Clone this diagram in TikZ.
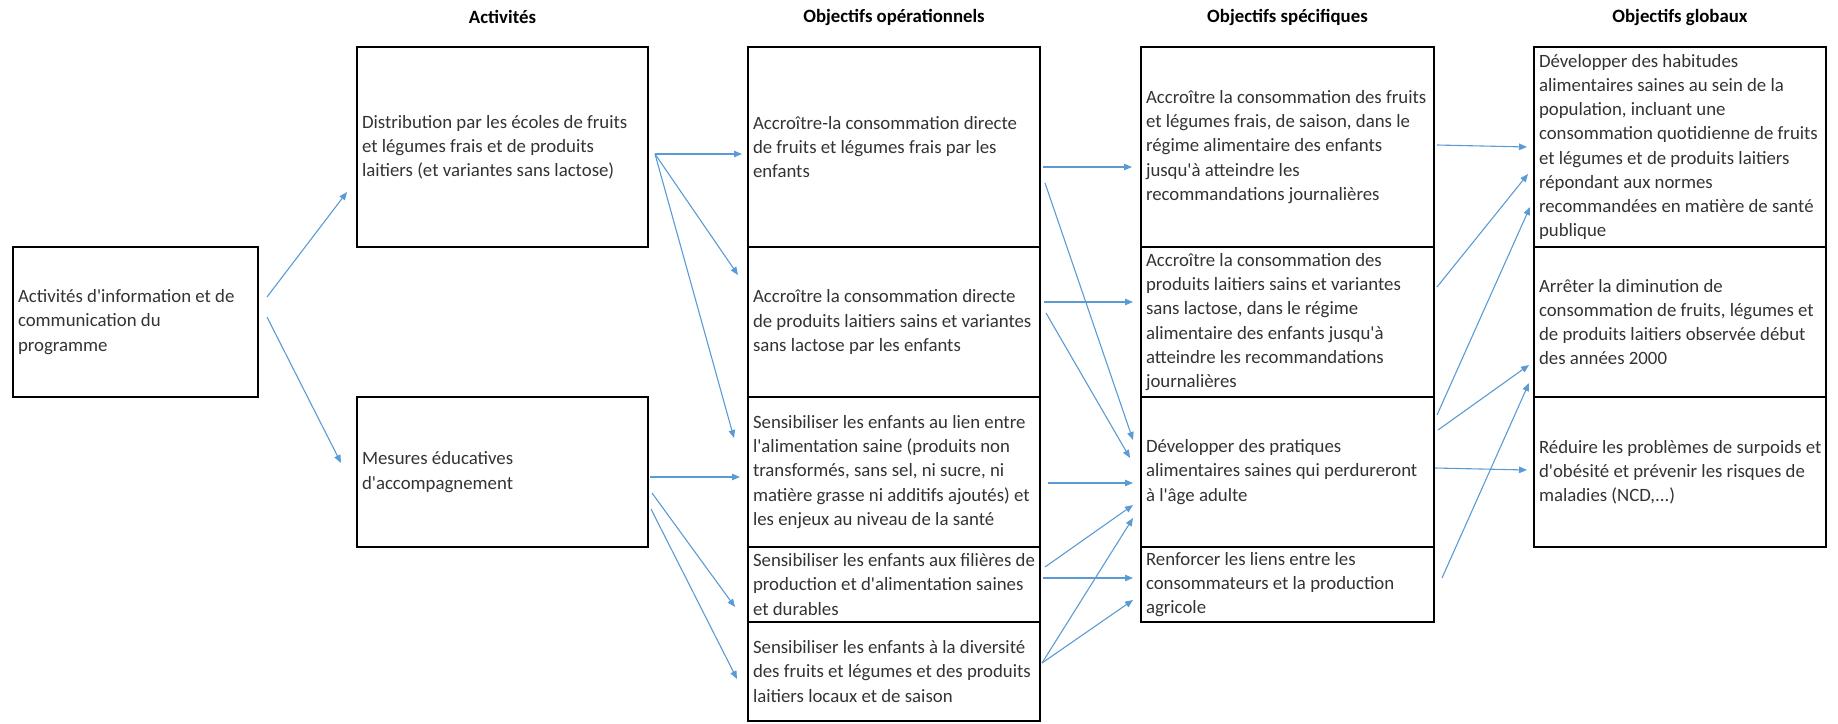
\documentclass[tikz,border=0pt]{standalone}
\usepackage{fontspec}
\setmainfont{Carlito}
\usetikzlibrary{calc,arrows.meta}
\definecolor{arrowblue}{RGB}{91,155,213}
\definecolor{txtgray}{HTML}{333333}
\newcommand\ap{\textquotesingle}
\begin{document}
\begin{tikzpicture}[x=1pt,y=-1pt,
  box/.style={draw=black, line width=1.8pt, rectangle, inner sep=0pt, outer sep=0pt},
  txt/.style={anchor=west, align=left, inner xsep=5pt, inner ysep=0pt, outer sep=0pt, text=txtgray, font=\fontsize{18.8}{24.2}\selectfont},
  hdr/.style={font=\fontsize{18.8}{22}\selectfont\bfseries, text=black, inner sep=0pt},
  arr/.style={draw=arrowblue, line width=1.1pt, -{Triangle[length=8pt,width=6.5pt]}}
]
\useasboundingbox (0,0) rectangle (1838,723);

% headers
\node[hdr] (H1) at (502.5,17) {Activités};
\node[hdr] (H2) at (894,17) {Objectifs opérationnels};
\node[hdr] (H3) at (1287.5,17) {Objectifs spécifiques};
\node[hdr] (H4) at (1680,17) {Objectifs globaux};

% boxes
\node[box, minimum width=245pt, minimum height=150pt] (A0) at (135.5,322) {};
\node[box, minimum width=291pt, minimum height=200pt] (Dist) at (502.5,147) {};
\node[box, minimum width=291pt, minimum height=150pt] (Mes) at (502.5,472) {};

\node[box, minimum width=292pt, minimum height=200pt] (O1) at (894,147) {};
\node[box, minimum width=292pt, minimum height=150pt] (O2) at (894,322) {};
\node[box, minimum width=292pt, minimum height=150pt] (O3) at (894,472) {};
\node[box, minimum width=292pt, minimum height=75pt] (O4) at (894,584.5) {};
\node[box, minimum width=292pt, minimum height=99pt] (O5) at (894,671.5) {};

\node[box, minimum width=293pt, minimum height=200pt] (S1) at (1287.5,147) {};
\node[box, minimum width=293pt, minimum height=150pt] (S2) at (1287.5,322) {};
\node[box, minimum width=293pt, minimum height=150pt] (S3) at (1287.5,472) {};
\node[box, minimum width=293pt, minimum height=75pt] (S4) at (1287.5,584.5) {};

\node[box, minimum width=292pt, minimum height=200pt] (G1) at (1680,147) {};
\node[box, minimum width=292pt, minimum height=150pt] (G2) at (1680,322) {};
\node[box, minimum width=292pt, minimum height=150pt] (G3) at (1680,472) {};

% texts
\node[txt] (A0t) at (A0.west) {Activités d\ap information et de\\communication du\\programme};
\node[txt] (Distt) at (Dist.west) {Distribution par les écoles de fruits\\et légumes frais et de produits\\laitiers (et variantes sans lactose)};
\node[txt] (Mest) at (Mes.west) {Mesures éducatives\\d\ap accompagnement};

\node[txt] (O1t) at (O1.west) {Accroître-la consommation directe\\de fruits et légumes frais par les\\enfants};
\node[txt] (O2t) at (O2.west) {Accroître la consommation directe\\de produits laitiers sains et variantes\\sans lactose par les enfants};
\node[txt] (O3t) at (O3.west) {Sensibiliser les enfants au lien entre\\l\ap alimentation saine (produits non\\transformés, sans sel, ni sucre, ni\\matière grasse ni additifs ajoutés) et\\les enjeux au niveau de la santé};
\node[txt] (O4t) at (O4.west) {Sensibiliser les enfants aux filières de\\production et d\ap alimentation saines\\et durables};
\node[txt] (O5t) at (O5.west) {Sensibiliser les enfants à la diversité\\des fruits et légumes et des produits\\laitiers locaux et de saison};

\node[txt] (S1t) at (S1.west) {Accroître la consommation des fruits\\et légumes frais, de saison, dans le\\régime alimentaire des enfants\\jusqu\ap à atteindre les\\recommandations journalières};
\node[txt] (S2t) at (S2.west) {Accroître la consommation des\\produits laitiers sains et variantes\\sans lactose, dans le régime\\alimentaire des enfants jusqu\ap à\\atteindre les recommandations\\journalières};
\node[txt] (S3t) at (S3.west) {Développer des pratiques\\alimentaires saines qui perdureront\\à l\ap âge adulte};
\node[txt] (S4t) at (S4.west) {Renforcer les liens entre les\\consommateurs et la production\\agricole};

\node[txt] (G1t) at (G1.west) {Développer des habitudes\\alimentaires saines au sein de la\\population, incluant une\\consommation quotidienne de fruits\\et légumes et de produits laitiers\\répondant aux normes\\recommandées en matière de santé\\publique};
\node[txt] (G2t) at (G2.west) {Arrêter la diminution de\\consommation de fruits, légumes et\\de produits laitiers observée début\\des années 2000};
\node[txt] (G3t) at (G3.west) {Réduire les problèmes de surpoids et\\d\ap obésité et prévenir les risques de\\maladies (NCD,...)};

% connectors
\draw[arr] ($(A0.east)+(9,-25)$) -- ($(Dist.west)+(-10,45)$);
\draw[arr] ($(A0.east)+(9,-5)$) -- ($(Mes.west)+(-16,-9)$);

\draw[arr] ($(Dist.east)+(7,7)$) -- ($(O1.west)+(-6,7)$);
\draw[arr] ($(Dist.east)+(7,7)$) -- ($(O2.west)+(-10,-47)$);
\draw[arr] ($(Dist.east)+(7,7)$) -- ($(O3.west)+(-14,-34)$);

\draw[arr] ($(Mes.east)+(2,5)$) -- ($(O3.west)+(-8,5)$);
\draw[arr] ($(Mes.east)+(4,21)$) -- ($(O4.west)+(-13,22.5)$);
\draw[arr] ($(Mes.east)+(3,37)$) -- ($(O5.west)+(-11,7.5)$);

\draw[arr] ($(O1.east)+(3,20)$) -- ($(S1.west)+(-9,20)$);
\draw[arr] ($(O1.east)+(5,36)$) -- ($(S3.west)+(-8,-32)$);
\draw[arr] ($(O2.east)+(4,-20)$) -- ($(S2.west)+(-8,-20)$);
\draw[arr] ($(O2.east)+(6,-9)$) -- ($(S3.west)+(-11,-14)$);
\draw[arr] ($(O3.east)+(8,11)$) -- ($(S3.west)+(-8,11)$);
\draw[arr] ($(O4.east)+(5,-17.5)$) -- ($(S3.west)+(-8,33)$);
\draw[arr] ($(O4.east)+(3,-6.5)$) -- ($(S4.west)+(-8,-6.5)$);
\draw[arr] ($(O5.east)+(2,-8.5)$) -- ($(S3.west)+(-8,46)$);
\draw[arr] ($(O5.east)+(2,-8.5)$) -- ($(S4.west)+(-8,15.5)$);

\draw[arr] ($(S1.east)+(3,-2)$) -- ($(G1.west)+(-7,0)$);
\draw[arr] ($(S2.east)+(3,-35)$) -- ($(G1.west)+(-6,27)$);
\draw[arr] ($(S3.east)+(3,-57)$) -- ($(G1.west)+(-4,60)$);
\draw[arr] ($(S3.east)+(4,-42)$) -- ($(G2.west)+(-5,43)$);
\draw[arr] ($(S3.east)+(1,-4)$) -- ($(G3.west)+(-7,-2)$);
\draw[arr] ($(S4.east)+(8,-6.5)$) -- ($(G2.west)+(-5,61)$);
\end{tikzpicture}
\end{document}
